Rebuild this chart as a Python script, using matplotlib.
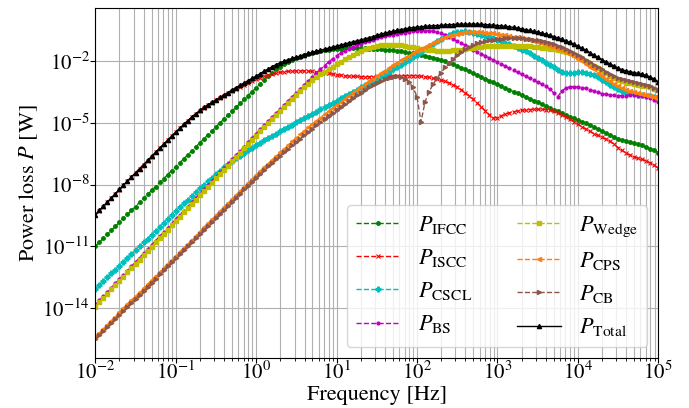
import numpy as np
import matplotlib
matplotlib.use("Agg")
import matplotlib.pyplot as plt

plt.rcParams['font.family'] = 'STIXGeneral'
plt.rcParams['mathtext.fontset'] = 'stix'

# frequency sweep: 20 points per decade from 10 mHz to 100 kHz
freq = np.logspace(-2, 5, 141)

# loss components, log10(P / W), one row per decade
p_ifcc = [
    -11.00, -10.81, -10.61, -10.42, -10.23, -10.03, -9.84, -9.65, -9.45, -9.26, -9.07, -8.87, -8.68, -8.48, -8.29, -8.10, -7.90, -7.71, -7.52, -7.32,
    -7.13, -6.94, -6.74, -6.55, -6.36, -6.16, -5.97, -5.78, -5.58, -5.39, -5.19, -5.00, -4.81, -4.62, -4.43, -4.24, -4.05, -3.86, -3.67, -3.48,
    -3.29, -3.09, -2.90, -2.72, -2.55, -2.40, -2.27, -2.15, -2.04, -1.94, -1.85, -1.77, -1.70, -1.64, -1.58, -1.53, -1.49, -1.46, -1.43, -1.41,
    -1.39, -1.38, -1.37, -1.36, -1.36, -1.36, -1.36, -1.37, -1.38, -1.39, -1.40, -1.41, -1.43, -1.45, -1.47, -1.49, -1.52, -1.55, -1.58, -1.61,
    -1.65, -1.69, -1.73, -1.77, -1.82, -1.87, -1.93, -1.99, -2.06, -2.14, -2.22, -2.31, -2.40, -2.49, -2.58, -2.67, -2.76, -2.85, -2.94, -3.03,
    -3.12, -3.21, -3.30, -3.39, -3.48, -3.56, -3.65, -3.73, -3.82, -3.91, -4.00, -4.08, -4.17, -4.26, -4.35, -4.43, -4.52, -4.61, -4.70, -4.78,
    -4.87, -4.94, -5.02, -5.11, -5.20, -5.30, -5.40, -5.50, -5.60, -5.69, -5.77, -5.84, -5.90, -5.95, -6.00, -6.05, -6.10, -6.17, -6.25, -6.34,
    -6.45]

p_iscc = [
    -9.48, -9.27, -9.07, -8.86, -8.66, -8.45, -8.25, -8.04, -7.84, -7.64, -7.44, -7.24, -7.04, -6.84, -6.64, -6.44, -6.24, -6.04, -5.85, -5.65,
    -5.46, -5.27, -5.08, -4.90, -4.72, -4.56, -4.40, -4.26, -4.13, -4.02, -3.90, -3.79, -3.67, -3.55, -3.44, -3.34, -3.24, -3.14, -3.05, -2.96,
    -2.88, -2.81, -2.74, -2.68, -2.62, -2.58, -2.54, -2.51, -2.49, -2.48, -2.47, -2.47, -2.47, -2.48, -2.49, -2.51, -2.53, -2.56, -2.59, -2.62,
    -2.65, -2.68, -2.70, -2.72, -2.73, -2.74, -2.75, -2.75, -2.75, -2.75, -2.74, -2.73, -2.72, -2.71, -2.71, -2.70, -2.70, -2.70, -2.70, -2.70,
    -2.71, -2.73, -2.75, -2.78, -2.82, -2.87, -2.92, -2.98, -3.05, -3.14, -3.25, -3.38, -3.52, -3.68, -3.85, -4.03, -4.22, -4.41, -4.60, -4.76,
    -4.74, -4.65, -4.57, -4.51, -4.46, -4.42, -4.39, -4.37, -4.35, -4.34, -4.33, -4.34, -4.35, -4.38, -4.43, -4.50, -4.60, -4.70, -4.82, -4.94,
    -5.06, -5.18, -5.30, -5.41, -5.52, -5.61, -5.70, -5.79, -5.90, -6.04, -6.20, -6.34, -6.47, -6.57, -6.65, -6.72, -6.78, -6.85, -6.95, -7.06,
    -7.20]

p_cscl = [
    -13.08, -12.90, -12.71, -12.52, -12.33, -12.14, -11.95, -11.76, -11.57, -11.39, -11.20, -11.01, -10.82, -10.63, -10.44, -10.25, -10.06, -9.87, -9.68, -9.49,
    -9.30, -9.11, -8.92, -8.74, -8.55, -8.37, -8.18, -8.00, -7.83, -7.66, -7.49, -7.33, -7.17, -7.02, -6.87, -6.73, -6.59, -6.46, -6.33, -6.20,
    -6.08, -5.96, -5.85, -5.74, -5.63, -5.52, -5.41, -5.30, -5.19, -5.08, -4.97, -4.87, -4.76, -4.66, -4.55, -4.45, -4.34, -4.24, -4.13, -4.02,
    -3.91, -3.81, -3.70, -3.60, -3.49, -3.38, -3.27, -3.17, -3.06, -2.95, -2.84, -2.73, -2.62, -2.51, -2.40, -2.29, -2.17, -2.05, -1.93, -1.81,
    -1.68, -1.55, -1.42, -1.28, -1.15, -1.02, -0.90, -0.79, -0.70, -0.63, -0.58, -0.56, -0.55, -0.57, -0.60, -0.65, -0.70, -0.76, -0.82, -0.89,
    -0.96, -1.03, -1.10, -1.18, -1.26, -1.34, -1.43, -1.52, -1.62, -1.73, -1.85, -1.96, -2.08, -2.19, -2.30, -2.41, -2.50, -2.56, -2.57, -2.55,
    -2.52, -2.52, -2.55, -2.60, -2.68, -2.78, -2.90, -3.02, -3.15, -3.27, -3.37, -3.45, -3.52, -3.56, -3.60, -3.63, -3.66, -3.68, -3.70, -3.72,
    -3.74]

p_bs = [
    -13.85, -13.64, -13.43, -13.23, -13.02, -12.81, -12.60, -12.39, -12.19, -11.98, -11.77, -11.56, -11.35, -11.15, -10.94, -10.73, -10.52, -10.31, -10.11, -9.90,
    -9.69, -9.48, -9.27, -9.07, -8.86, -8.65, -8.44, -8.23, -8.03, -7.82, -7.61, -7.40, -7.19, -6.99, -6.78, -6.57, -6.36, -6.15, -5.95, -5.74,
    -5.53, -5.32, -5.12, -4.92, -4.72, -4.52, -4.32, -4.12, -3.92, -3.72, -3.53, -3.33, -3.14, -2.95, -2.76, -2.57, -2.39, -2.21, -2.04, -1.88,
    -1.73, -1.60, -1.49, -1.39, -1.30, -1.22, -1.14, -1.07, -1.00, -0.94, -0.88, -0.83, -0.78, -0.74, -0.70, -0.66, -0.63, -0.60, -0.57, -0.55,
    -0.53, -0.52, -0.51, -0.52, -0.55, -0.59, -0.64, -0.72, -0.82, -0.92, -1.02, -1.12, -1.23, -1.33, -1.43, -1.53, -1.64, -1.74, -1.84, -1.94,
    -2.04, -2.14, -2.24, -2.34, -2.44, -2.54, -2.64, -2.73, -2.83, -2.92, -3.02, -3.12, -3.22, -3.35, -3.55, -3.72, -3.45, -3.30, -3.24, -3.23,
    -3.25, -3.28, -3.32, -3.38, -3.45, -3.51, -3.57, -3.61, -3.64, -3.66, -3.67, -3.67, -3.67, -3.66, -3.66, -3.67, -3.68, -3.72, -3.78, -3.87,
    -4.00]

p_wedge = [
    -13.94, -13.73, -13.52, -13.32, -13.11, -12.90, -12.69, -12.48, -12.28, -12.07, -11.86, -11.65, -11.44, -11.24, -11.03, -10.82, -10.61, -10.40, -10.20, -9.99,
    -9.78, -9.57, -9.36, -9.16, -8.95, -8.74, -8.53, -8.32, -8.12, -7.91, -7.70, -7.49, -7.28, -7.08, -6.87, -6.66, -6.45, -6.24, -6.04, -5.83,
    -5.62, -5.41, -5.21, -5.01, -4.81, -4.61, -4.41, -4.21, -4.01, -3.82, -3.63, -3.44, -3.26, -3.09, -2.93, -2.78, -2.64, -2.51, -2.38, -2.26,
    -2.14, -2.02, -1.90, -1.79, -1.68, -1.58, -1.49, -1.41, -1.35, -1.30, -1.26, -1.23, -1.21, -1.20, -1.20, -1.21, -1.23, -1.26, -1.29, -1.32,
    -1.35, -1.39, -1.42, -1.45, -1.47, -1.48, -1.49, -1.49, -1.48, -1.47, -1.45, -1.43, -1.40, -1.37, -1.34, -1.31, -1.29, -1.28, -1.27, -1.26,
    -1.26, -1.26, -1.26, -1.26, -1.26, -1.26, -1.27, -1.27, -1.28, -1.29, -1.31, -1.33, -1.35, -1.38, -1.41, -1.45, -1.50, -1.56, -1.62, -1.70,
    -1.78, -1.88, -1.98, -2.10, -2.22, -2.35, -2.47, -2.59, -2.70, -2.81, -2.90, -2.98, -3.04, -3.08, -3.12, -3.15, -3.18, -3.22, -3.27, -3.33,
    -3.40]

p_cps = [
    -15.41, -15.21, -15.02, -14.82, -14.62, -14.43, -14.23, -14.03, -13.83, -13.64, -13.44, -13.24, -13.05, -12.85, -12.65, -12.46, -12.26, -12.06, -11.86, -11.67,
    -11.47, -11.27, -11.08, -10.88, -10.68, -10.49, -10.29, -10.09, -9.89, -9.70, -9.50, -9.30, -9.11, -8.91, -8.71, -8.52, -8.32, -8.12, -7.93, -7.74,
    -7.55, -7.36, -7.17, -6.98, -6.80, -6.62, -6.44, -6.26, -6.08, -5.90, -5.73, -5.56, -5.39, -5.22, -5.06, -4.90, -4.74, -4.58, -4.43, -4.27,
    -4.12, -3.97, -3.82, -3.67, -3.53, -3.39, -3.25, -3.11, -2.98, -2.84, -2.71, -2.58, -2.45, -2.32, -2.20, -2.07, -1.95, -1.83, -1.72, -1.61,
    -1.50, -1.39, -1.29, -1.19, -1.10, -1.01, -0.92, -0.84, -0.77, -0.71, -0.65, -0.61, -0.58, -0.56, -0.56, -0.57, -0.58, -0.60, -0.62, -0.64,
    -0.67, -0.70, -0.73, -0.76, -0.80, -0.84, -0.88, -0.92, -0.97, -1.02, -1.07, -1.12, -1.18, -1.24, -1.30, -1.38, -1.46, -1.55, -1.65, -1.76,
    -1.87, -1.99, -2.12, -2.26, -2.40, -2.55, -2.70, -2.84, -2.98, -3.10, -3.20, -3.30, -3.38, -3.44, -3.50, -3.55, -3.60, -3.65, -3.70, -3.76,
    -3.82]

p_cb = [
    -15.53, -15.33, -15.14, -14.94, -14.74, -14.55, -14.35, -14.15, -13.95, -13.76, -13.56, -13.36, -13.17, -12.97, -12.77, -12.58, -12.38, -12.18, -11.98, -11.79,
    -11.59, -11.39, -11.20, -11.00, -10.80, -10.61, -10.41, -10.21, -10.01, -9.82, -9.62, -9.42, -9.23, -9.03, -8.83, -8.64, -8.44, -8.24, -8.05, -7.86,
    -7.67, -7.48, -7.30, -7.12, -6.95, -6.77, -6.60, -6.43, -6.26, -6.09, -5.93, -5.76, -5.60, -5.44, -5.28, -5.12, -4.97, -4.81, -4.66, -4.51,
    -4.36, -4.21, -4.07, -3.93, -3.79, -3.65, -3.52, -3.39, -3.27, -3.15, -3.04, -2.94, -2.86, -2.80, -2.75, -2.73, -2.75, -2.84, -3.00, -3.27,
    -3.72, -4.95, -3.98, -3.48, -3.12, -2.82, -2.55, -2.30, -2.08, -1.88, -1.70, -1.55, -1.42, -1.30, -1.20, -1.12, -1.06, -1.01, -0.97, -0.94,
    -0.92, -0.90, -0.88, -0.87, -0.87, -0.87, -0.88, -0.90, -0.92, -0.95, -0.98, -1.02, -1.06, -1.12, -1.18, -1.25, -1.32, -1.41, -1.50, -1.60,
    -1.70, -1.81, -1.92, -2.04, -2.16, -2.28, -2.40, -2.51, -2.62, -2.72, -2.80, -2.87, -2.93, -2.98, -3.02, -3.06, -3.10, -3.15, -3.22, -3.31,
    -3.42]

p_total = [
    -9.47, -9.26, -9.06, -8.85, -8.65, -8.44, -8.24, -8.03, -7.83, -7.63, -7.43, -7.23, -7.03, -6.83, -6.63, -6.43, -6.23, -6.03, -5.84, -5.64,
    -5.45, -5.26, -5.07, -4.89, -4.71, -4.55, -4.39, -4.25, -4.12, -4.00, -3.88, -3.76, -3.64, -3.52, -3.40, -3.28, -3.17, -3.05, -2.94, -2.83,
    -2.72, -2.60, -2.48, -2.37, -2.26, -2.16, -2.07, -1.99, -1.92, -1.86, -1.80, -1.74, -1.68, -1.62, -1.57, -1.51, -1.46, -1.41, -1.36, -1.31,
    -1.26, -1.21, -1.16, -1.11, -1.06, -1.01, -0.96, -0.91, -0.86, -0.80, -0.74, -0.68, -0.63, -0.58, -0.54, -0.50, -0.46, -0.42, -0.39, -0.36,
    -0.34, -0.32, -0.30, -0.28, -0.27, -0.26, -0.25, -0.23, -0.22, -0.21, -0.20, -0.19, -0.19, -0.19, -0.19, -0.19, -0.20, -0.21, -0.23, -0.24,
    -0.26, -0.28, -0.30, -0.32, -0.35, -0.38, -0.42, -0.46, -0.50, -0.54, -0.58, -0.63, -0.68, -0.74, -0.80, -0.86, -0.93, -1.00, -1.08, -1.17,
    -1.26, -1.36, -1.47, -1.58, -1.70, -1.81, -1.92, -2.03, -2.13, -2.23, -2.33, -2.41, -2.47, -2.51, -2.55, -2.59, -2.63, -2.69, -2.77, -2.87,
    -3.00]

fig = plt.figure(figsize=(6.89, 4.08), dpi=100)
ax = fig.add_axes([0.1383, 0.1218, 0.8171, 0.8579])

ax.loglog(freq, 10 ** np.array(p_ifcc), 'g.--', ms=5, lw=1, label=r'$P_{\rm IFCC}$')
ax.loglog(freq, 10 ** np.array(p_iscc), 'rx--', ms=3, mew=0.8, lw=1, label=r'$P_{\rm ISCC}$')
ax.loglog(freq, 10 ** np.array(p_cscl), 'cP--', ms=3.5, lw=1, label=r'$P_{\rm CSCL}$')
ax.loglog(freq, 10 ** np.array(p_bs), 'm.--', ms=4, lw=1, label=r'$P_{\rm BS}$')
ax.loglog(freq, 10 ** np.array(p_wedge), 'ys--', ms=3.5, lw=1, label=r'$P_{\rm Wedge}$')
ax.loglog(freq, 10 ** np.array(p_cps), '<--', color='tab:orange', ms=3, lw=1, label=r'$P_{\rm CPS}$')
ax.loglog(freq, 10 ** np.array(p_cb), '>--', color='tab:brown', ms=3, lw=1, label=r'$P_{\rm CB}$')
ax.loglog(freq, 10 ** np.array(p_total), 'k^-', ms=3, lw=1, label=r'$P_{\rm Total}$')

ax.set_xlim(1e-2, 1e5)
ax.set_ylim(10 ** -16.46, 10 ** 0.58)
ax.set_yticks([1e-14, 1e-11, 1e-8, 1e-5, 1e-2])
ax.yaxis.set_minor_locator(matplotlib.ticker.NullLocator())
ax.grid(True, which='both', color='#b0b0b0', lw=0.8)
ax.tick_params(labelsize=15)
ax.tick_params(axis='x', which='major', pad=-1)
ax.tick_params(axis='y', which='major', pad=0.5)

ax.set_xlabel('Frequency [Hz]', fontsize=16, labelpad=1)
ax.set_ylabel(r'Power loss $P$ [W]', fontsize=16, labelpad=2)
ax.legend(loc='lower right', ncol=2, fontsize=16)

fig.savefig('out.png', dpi=100)
